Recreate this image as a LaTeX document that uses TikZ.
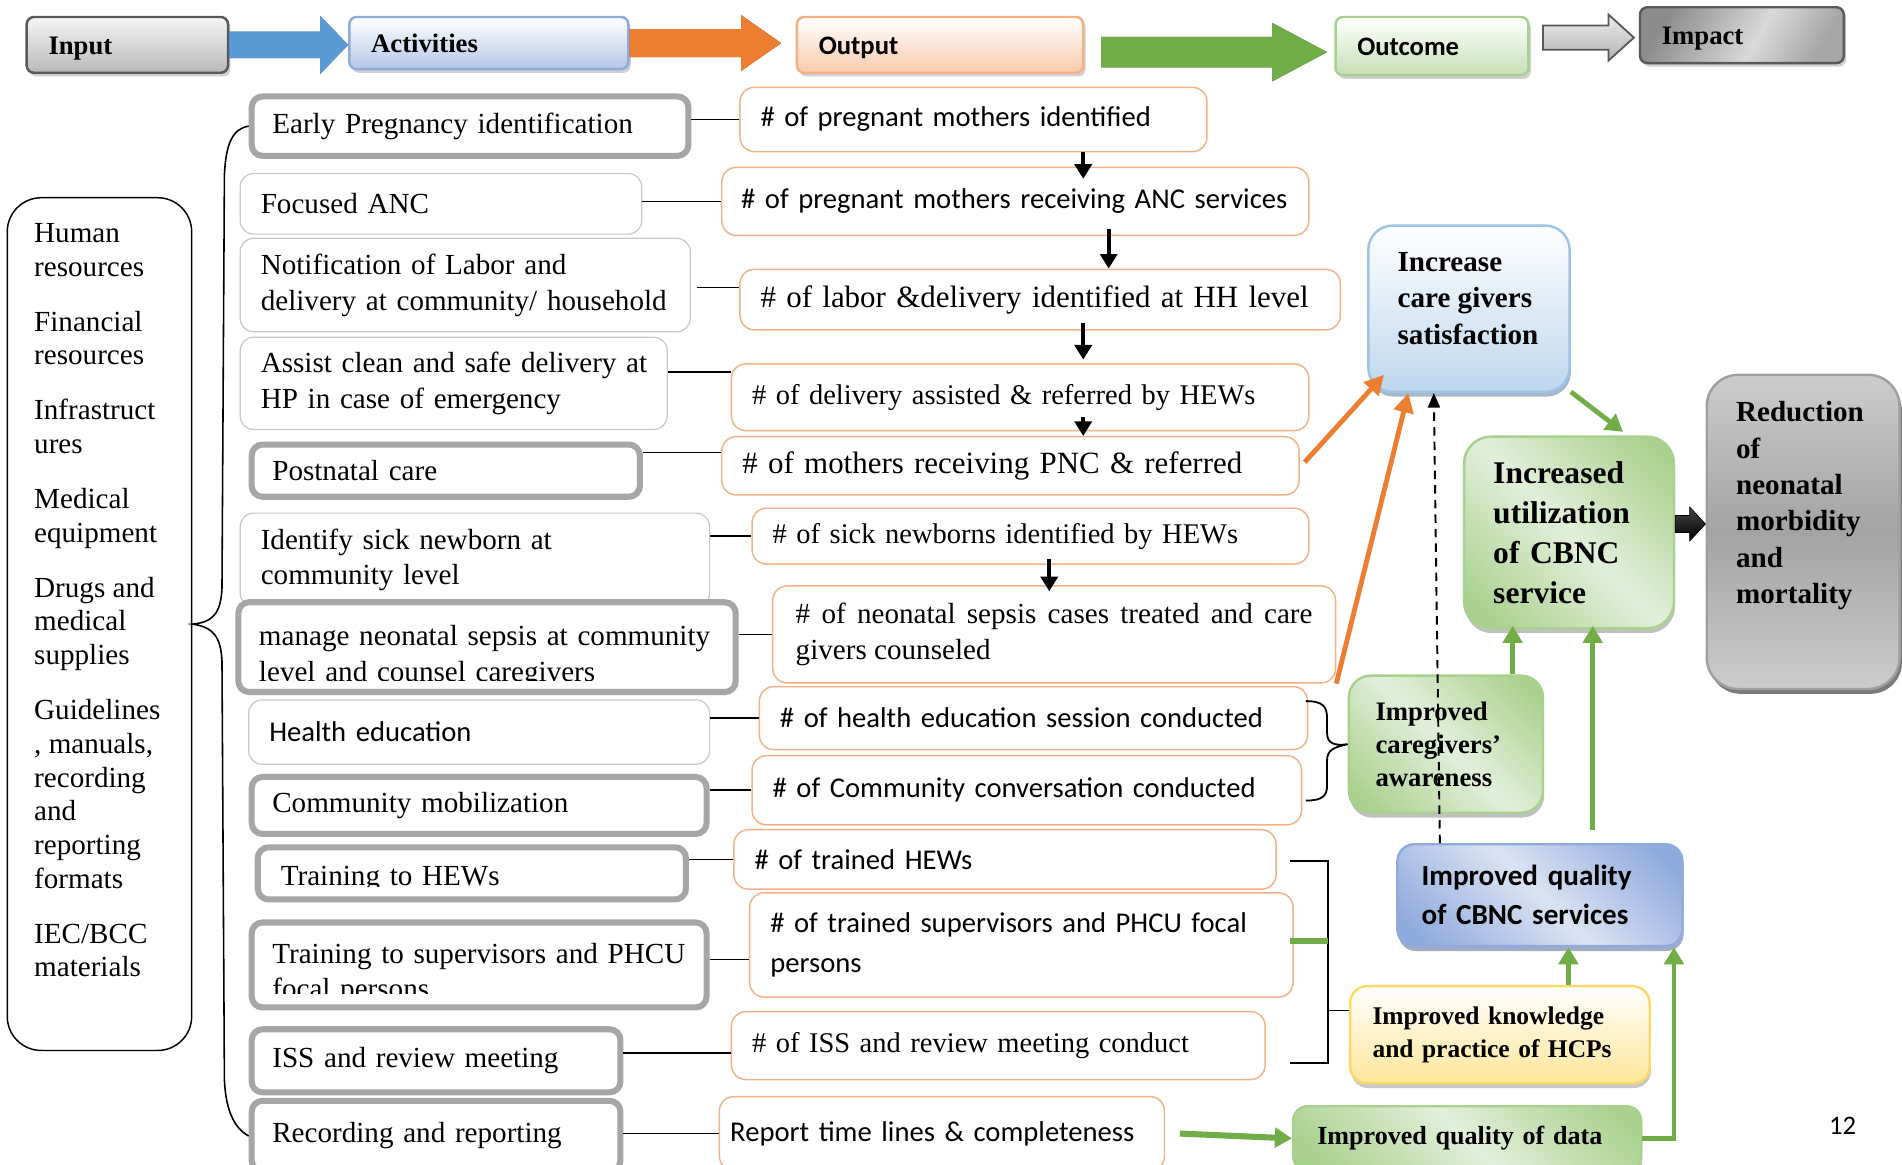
\documentclass[tikz,border=0pt]{standalone}
\usepackage{fontspec}
\setmainfont{Liberation Serif}
\newfontfamily\calib{Carlito}
\usetikzlibrary{arrows.meta,calc,shadows}

% palette
\definecolor{thickgray}{HTML}{A6A6A6}
\definecolor{thingray}{HTML}{C8C8C8}
\definecolor{orline}{HTML}{F4B183}
\definecolor{orfill}{HTML}{ED7D31}
\definecolor{orshadow}{HTML}{8B3A0E}
\definecolor{blfill}{HTML}{5B9BD5}
\definecolor{blshadow}{HTML}{2F5F8F}
\definecolor{grfill}{HTML}{70AD47}
\definecolor{grshadow}{HTML}{3A5F25}
\definecolor{darkline}{HTML}{595959}
\definecolor{glight}{HTML}{E2EFDA}
\definecolor{gdark}{HTML}{A9D18E}
\definecolor{blight}{HTML}{DAE3F3}
\definecolor{bdark}{HTML}{8FAADC}
\definecolor{graylight}{HTML}{CCCCCC}
\definecolor{graydark}{HTML}{A3A3A3}
\definecolor{skyfill}{HTML}{BDD7EE}
\definecolor{skyline}{HTML}{9DC3E6}
\definecolor{actfill}{HTML}{B4C7E7}
\definecolor{peach}{HTML}{F8CBAD}
\definecolor{mint}{HTML}{C5E0B4}
\definecolor{butter}{HTML}{FFE699}
\definecolor{butterline}{HTML}{FFD966}
\definecolor{imA}{HTML}{8C8C8C}
\definecolor{imB}{HTML}{D9D9D9}
\definecolor{imC}{HTML}{A6A6A6}

% shadings
\pgfdeclarehorizontalshading{greenband}{100bp}{color(0bp)=(gdark); color(20bp)=(gdark); color(50bp)=(glight); color(80bp)=(gdark); color(100bp)=(gdark)}
\pgfdeclarehorizontalshading{blueband}{100bp}{color(0bp)=(bdark); color(20bp)=(bdark); color(50bp)=(blight); color(80bp)=(bdark); color(100bp)=(bdark)}
\pgfdeclareverticalshading{grayband}{100bp}{color(0bp)=(graylight); color(25bp)=(graylight); color(50bp)=(graydark); color(75bp)=(graylight); color(100bp)=(graylight)}
\pgfdeclarehorizontalshading{impactshade}{100bp}{color(0bp)=(imA); color(25bp)=(imA); color(55bp)=(imB); color(75bp)=(imC); color(100bp)=(imC)}

% fonts
\newcommand\tnr{\fontsize{24}{29.5}\selectfont}
\newcommand\tnrout{\fontsize{23.5}{29}\selectfont}
\newcommand\tnrbig{\fontsize{25.5}{31}\selectfont}
\newcommand\calibf{\calib\fontsize{23.6}{29}\selectfont}
\newcommand\calibwide{\calib\fontsize{23.6}{33}\selectfont}

% block arrow: style, start, tip, body half height, head half height, head length
\newcommand\fatarrow[6]{%
  \path[#1] let \p1=(#2), \p2=(#3) in
    (\x1,\y1+#4) -- (\x2-#6,\y1+#4) -- (\x2-#6,\y1+#5) -- (\x2,\y1)
    -- (\x2-#6,\y1-#5) -- (\x2-#6,\y1-#4) -- (\x1,\y1-#4) -- cycle;}

\tikzset{
  hdr/.style={draw, line width=2pt, rounded corners=6pt, inner xsep=18pt, align=left,
    text height=16pt, text depth=0pt,
    font=\bfseries\fontsize{22}{26}\selectfont,
    drop shadow={shadow xshift=2pt, shadow yshift=-3pt, fill=gray!60, opacity=0.6}},
  thickbox/.style={draw=thickgray, line width=5pt, rounded corners=9pt, fill=white,
    inner xsep=17pt, align=left, font=\tnr},
  thinbox/.style={draw=thingray, line width=1pt, rounded corners=11pt, fill=white,
    inner xsep=17pt, align=left, font=\tnr},
  outbox/.style={draw=orline, line width=1.2pt, rounded corners=12pt, fill=white,
    inner xsep=17pt, align=left, font=\tnrout},
  rbox/.style={line width=2pt, align=left},
  wire/.style={draw=black, line width=1.3pt},
  downarr/.style={draw=black, line width=3pt, -{Triangle[length=12pt,width=14pt]}},
  orarrow/.style={draw=orfill, line width=4pt, -{Triangle[length=16pt,width=16pt]}},
  grarrow/.style={draw=grfill, line width=4pt, -{Triangle[length=14pt,width=16pt]}},
  dasharr/.style={draw=black, line width=1.6pt, dash pattern=on 7pt off 5pt,
    -{Triangle[length=12pt,width=10pt]}},
  bracketline/.style={draw=black, line width=1.5pt},
  greenbar/.style={draw=grfill, line width=5pt},
}

\begin{document}
\begin{tikzpicture}[x=1pt,y=-1pt]
\useasboundingbox (0,0) rectangle (1568,960);
\fill[white] (0,0) rectangle (1568,960);

% ---------- header row ----------
\node[hdr, draw=darkline, top color=gray!8, bottom color=gray!55, text width=130pt, minimum height=46pt] (hIn) at (105,37) {Input};
\node[hdr, draw=bdark, top color=white, bottom color=actfill, text width=194pt, minimum height=43pt] (hAct) at (403,35.5) {Activities};
\node[hdr, draw=orline, top color=white, bottom color=peach, text width=200pt, minimum height=46pt, font=\calib\bfseries\fontsize{22}{26}\selectfont] (hOut) at (775,37) {Output};
\node[hdr, draw=gdark, top color=white, bottom color=mint, text width=123pt, minimum height=48pt, font=\calib\bfseries\fontsize{22}{26}\selectfont] (hOc) at (1180.5,38) {Outcome};
\node[hdr, draw=darkline, shade, shading=impactshade, shading angle=-30, text width=132pt, minimum height=46pt] (hIm) at (1436,29) {Impact};

\fatarrow{fill=blshadow, xshift=2pt, yshift=-3pt}{hIn.east}{hAct.west}{11}{24}{23}
\fatarrow{fill=blfill}{hIn.east}{hAct.west}{11}{24}{23}
\fatarrow{fill=orshadow, xshift=2pt, yshift=-3pt}{hAct.east}{$(hOut.west)+(-12,0)$}{11.5}{23}{33}
\fatarrow{fill=orfill}{hAct.east}{$(hOut.west)+(-12,0)$}{11.5}{23}{33}
\fatarrow{fill=grshadow, xshift=2pt, yshift=-3pt}{$(hOut.east)+(14,6)$}{$(hOc.west)+(-6,6)$}{12.5}{24}{45}
\fatarrow{fill=grfill}{$(hOut.east)+(14,6)$}{$(hOc.west)+(-6,6)$}{12.5}{24}{45}
\fatarrow{top color=gray!15, bottom color=gray!60, draw=darkline, line width=1.5pt}{$(hOc.east)+(11,-7)$}{$(hIm.west)+(-4,0)$}{10}{19}{21}

% ---------- inputs ----------
\node[draw=black, line width=1.2pt, rounded corners=28pt, minimum width=152pt, minimum height=703pt] (inp) at (82,514.5) {};
\node[anchor=north west, inner sep=0pt, align=left, font=\fontsize{24}{27.8}\selectfont] (inpt) at (28,184)
  {Human\\resources\\[17.5pt]Financial\\resources\\[17.5pt]Infrastruct\\ures\\[17.5pt]Medical\\equipment\\[17.5pt]Drugs and\\medical\\supplies\\[17.5pt]Guidelines\\, manuals,\\recording\\and\\reporting\\formats\\[17.5pt]IEC/BCC\\materials};

% ---------- activities ----------
\node[thickbox, text width=326pt, minimum height=49pt] (a1) at (387.5,104) {Early Pregnancy identification};
\node[thinbox, text width=297pt, minimum height=50pt] (a2) at (363.5,168) {Focused ANC};
\node[thinbox, text width=337pt, minimum height=77pt] (a3) at (383.5,235) {\mbox{Notification of Labor and}\\\mbox{delivery at community/ household}};
\node[thinbox, text width=318pt, minimum height=76pt] (a4) at (374,316) {\mbox{Assist clean and safe delivery at}\\\mbox{HP in case of emergency}};
\node[thickbox, text width=286pt, minimum height=43pt] (a5) at (367.5,388) {Postnatal care};
\node[thinbox, text width=353pt, minimum height=77pt] (a6) at (391.5,461.5) {Identify sick newborn at\\community level};
\node[thickbox, text width=376pt, minimum height=74pt] (a7) at (401.5,533.5) {};
\begin{scope}
  \clip (190,490) rectangle (615,561);
  \node[inner xsep=17pt, align=left, text width=376pt, font=\tnr] (a7t) at (401.5,541) {\mbox{manage neonatal sepsis at community}\\level and counsel caregivers};
\end{scope}
\node[thinbox, font=\calibf, text width=346pt, minimum height=53pt] (a8) at (395,603.5) {Health education};
\node[thickbox, text width=341pt, minimum height=47pt] (a9) at (395,664) {Community mobilization};
\node[thickbox, text width=319pt, minimum height=43pt] (a10) at (389,720) {};
\begin{scope}
  \clip (200,690) rectangle (580,731);
  \node[inner xsep=17pt, align=left, text width=319pt, font=\tnr] (a10t) at (391,725) {Training to HEWs};
\end{scope}
\node[thickbox, text width=341pt, minimum height=70pt] (a11) at (395,795.5) {};
\begin{scope}
  \clip (200,750) rectangle (590,819);
  \node[inner xsep=17pt, align=left, text width=341pt, font=\tnr] (a11t) at (395,803) {\mbox{Training to supervisors and PHCU}\\focal persons};
\end{scope}
\node[thickbox, text width=270pt, minimum height=52pt] (a12) at (359.5,874.5) {ISS and review meeting};
\node[thickbox, text width=270pt, minimum height=58pt] (a13) at (359.5,936.5) {Recording and reporting};

% brace gathering the activities
\draw[bracketline, line width=1.3pt] (a1.west) .. controls (192,106) and (186,118) .. (185,145) -- (183,485)
  .. controls (182,505) and (176,513) .. (inp.east) .. controls (176,517) and (182,525) .. (183,545)
  -- (185,890) .. controls (186,915) and (193,930) .. (a13.west);

% ---------- outputs ----------
\node[outbox, font=\calibf, text width=351pt, minimum height=53pt] (o1) at (802.5,98.5) {\# of pregnant mothers identified};
\node[outbox, font=\calib\fontsize{23.6}{29}\selectfont, inner xsep=16pt, text width=452pt, minimum height=56pt] (o2) at (837,166) {\mbox{\# of pregnant mothers receiving ANC services}};
\node[outbox, font=\tnrbig, text width=461pt, minimum height=50pt] (o3) at (857.5,247) {\mbox{\# of labor \&delivery identified at HH level}};
\node[outbox, text width=442pt, minimum height=55pt] (o4) at (841,327.5) {\mbox{\# of delivery assisted \& referred by HEWs}};
\node[outbox, font=\tnrbig, text width=442pt, minimum height=48pt] (o5) at (833,384) {\mbox{\# of mothers receiving PNC \& referred}};
\node[outbox, text width=425pt, minimum height=46pt] (o6) at (849.5,442) {\mbox{\# of sick newborns identified by HEWs}};
\node[outbox, font=\tnr, align=justify, inner xsep=19pt, text width=426pt, minimum height=80pt] (o7) at (869,523) {\# of neonatal sepsis cases treated and care\linebreak givers counseled};
\node[outbox, font=\calibf, text width=418pt, minimum height=52pt] (o8) at (852,592) {\mbox{\# of health education session conducted}};
\node[outbox, font=\calibf, text width=419pt, minimum height=57pt] (o9) at (846.5,651.5) {\mbox{\# of Community conversation conducted}};
\node[outbox, font=\calibf, text width=413pt, minimum height=49pt] (o10) at (828.5,708.5) {\# of trained HEWs};
\node[outbox, font=\calibwide, text width=414pt, minimum height=86pt] (o11) at (842,779) {\mbox{\# of trained supervisors and PHCU focal}\\persons};
\node[outbox, text width=406pt, minimum height=56pt] (o12) at (823,862) {\mbox{\# of ISS and review meeting conduct}};
\node[outbox, font=\calibf, inner xsep=9pt, text width=349pt, minimum height=61pt] (o13) at (776.5,934.5) {\mbox{Report time lines \& completeness}};

% activity -> output links
\coordinate (c3) at ($(o3.west)+(0,-10)$);
\coordinate (c4) at ($(o4.west)+(0,-21)$);
\coordinate (c5) at ($(o5.west)+(0,-11)$);
\coordinate (c11) at ($(o11.west)+(0,12)$);
\coordinate (c12) at ($(o12.west)+(0,6)$);
\draw[wire] (a1.east |- o1.west) -- (o1.west);
\draw[wire] (a2.east |- o2.west) -- (o2.west);
\draw[wire] ($(a3.east |- c3)+(5,0)$) -- (c3);
\draw[wire] (a4.east |- c4) -- (c4);
\draw[wire] (a5.east |- c5) -- (c5);
\draw[wire] (a6.east |- o6.west) -- (o6.west);
\draw[wire] (a7.east |- o7.west) -- (o7.west);
\draw[wire] (a8.east |- o8.west) -- (o8.west);
\draw[wire] (a9.east |- o9.west) -- (o9.west);
\draw[wire] (a10.east |- o10.west) -- (o10.west);
\draw[wire] (a11.east |- c11) -- (c11);
\draw[wire] (a12.east |- c12) -- (c12);
\draw[wire] (a13.east |- o13.west) -- (o13.west);

% cascade between outputs
\draw[downarr] ($(o1.south)+(90.5,0)$) -- ($(o2.north)+(56,10)$);
\draw[downarr] ($(o2.south)+(77,-6)$) -- ($(o3.north)+(56.5,0)$);
\draw[downarr] ($(o3.south)+(35.5,-6)$) -- ($(o4.north)+(52,-3)$);
\draw[downarr] ($(o4.south)+(52,-12)$) -- ($(o5.north)+(60,0)$);
\draw[downarr] ($(o6.south)+(15.5,-5)$) -- ($(o7.north)+(-4,5)$);

% ---------- outcomes ----------
\node[rbox, draw=skyline, top color=white, bottom color=skyfill, rounded corners=20pt, minimum width=166pt, minimum height=137pt,
  drop shadow={shadow xshift=1pt, shadow yshift=-4pt, fill=skyline!70!black, opacity=0.6}] (r1) at (1211,254.5) {};
\node[anchor=west, inner sep=0pt, align=left, font=\bfseries\fontsize{24}{30}\selectfont] (r1t) at (1152,246) {Increase\\care givers\\satisfaction};
\node[rbox, draw=gdark, shade, shading=greenband, shading angle=45, rounded corners=22pt, inner xsep=24pt, text width=125pt, minimum height=158pt,
  font=\bfseries\fontsize{26}{33}\selectfont,
  drop shadow={shadow xshift=1pt, shadow yshift=-4pt, fill=gray!70, opacity=0.7}] (r2) at (1293.5,439) {Increased\\utilization\\of CBNC\\service};
\node[rbox, draw=gray!75, shade, shading=grayband, rounded corners=26pt, minimum width=159pt, minimum height=259pt,
  drop shadow={shadow xshift=2pt, shadow yshift=-4pt, fill=gray!70!black, opacity=0.8}] (r3) at (1486.5,438.5) {};
\node[anchor=west, inner sep=0pt, align=left, font=\bfseries\fontsize{24}{30}\selectfont] (r3t) at (1431,417) {Reduction\\of\\neonatal\\morbidity\\and\\mortality};
\node[rbox, draw=gdark, shade, shading=greenband, shading angle=45, rounded corners=18pt, inner xsep=22pt, text width=116pt, minimum height=113pt,
  font=\bfseries\fontsize{22}{27}\selectfont,
  drop shadow={shadow xshift=1pt, shadow yshift=-4pt, fill=gray!70, opacity=0.7}] (r4) at (1192,613.5) {Improved\\caregivers’\\awareness};
\node[rbox, draw=bdark, shade, shading=blueband, shading angle=45, rounded corners=14pt, inner xsep=20pt, text width=195pt, minimum height=84pt,
  font=\calib\bfseries\fontsize{24}{32}\selectfont,
  drop shadow={shadow xshift=1pt, shadow yshift=-4pt, fill=bdark!70!black, opacity=0.6}] (r5) at (1269.5,738) {Improved quality\\of CBNC services};
\node[rbox, draw=butterline, top color=white, bottom color=butter, rounded corners=14pt, inner xsep=18.5pt, text width=210pt, minimum height=80pt,
  font=\bfseries\fontsize{21}{27}\selectfont,
  drop shadow={shadow xshift=1pt, shadow yshift=-4pt, fill=gray!60, opacity=0.7}] (r6) at (1236.5,853) {Improved knowledge\\and practice of HCPs};
\node[rbox, draw=gdark, shade, shading=greenband, shading angle=45, rounded corners=12pt, inner xsep=20pt, text width=247pt, minimum height=53pt,
  font=\bfseries\fontsize{21.5}{27}\selectfont,
  drop shadow={shadow xshift=1pt, shadow yshift=-4pt, fill=gray!60, opacity=0.7}] (r7) at (1209.5,938.5) {Improved quality of data};

% output -> outcome arrows
\draw[orarrow] ($(o5.east)+(4,-3)$) -- ($(r1.south west)+(14,-15)$);
\draw[orarrow] (o7.south east) -- ($(r1.south west)+(34,0)$);
\draw[dasharr] ($(r5.north west)+(36,0)$) -- ($(r1.south west)+(55,0)$);

% outcome links
\draw[grarrow] ($(r1.south east)+(0,-1)$) -- ($(r2.north east)+(-43,-3)$);
\coordinate (g1) at ($(r4.north)+(55,0)$);
\draw[grarrow, shorten >=-3pt] (g1) -- (g1 |- r2.south);
\coordinate (g2) at ($(r5.north)+(43.5,-11)$);
\draw[grarrow, shorten >=-3pt] (g2) -- (g2 |- r2.south);
\coordinate (g3) at ($(r6.north)+(56.5,0)$);
\draw[grarrow] (g3) -- (g3 |- r5.south);
\coordinate (g4) at ($(r5.south east)+(-8,0)$);
\draw[grarrow] (r7.east) -| (g4);
\draw[grarrow, line width=5pt] ($(o13.east)+(12,0)$) -- (r7.west);
\fatarrow{top color=gray!55!black, bottom color=black, draw=black, line width=0.5pt}{$(r2.east)+(0,-7)$}{r3.west}{7}{14}{13}

% brackets grouping outputs
\coordinate (bk) at ($(o10.east)+(42,0)$);
\coordinate (kn) at ($(r6.west)+(0,-20)$);
\draw[bracketline] ($(o10.east)+(11,1.5)$) -- ($(bk)+(0,1.5)$) |- ($(o12.east)+(20,14)$);
\draw[bracketline] (bk |- kn) -- (kn);
\draw[greenbar] ($(o11.east)+(-3,-3)$) -- ($(bk |- o11.east)+(0,-3)$);
\draw[bracketline] ($(o8.east)+(-2,-14)$) .. controls (1090,578) and (1094,582) .. (1094,592) -- (1094,604)
  .. controls (1094,613) and (1100,615) .. (r4.west) .. controls (1100,616) and (1094,618) .. (1094,627)
  -- (1094,648) .. controls (1094,656) and (1090,660) .. ($(o9.east)+(3,8.5)$);

% page number
\node[font=\calib\fontsize{22}{26}\selectfont] (pg) at (1519,928) {12};
\end{tikzpicture}
\end{document}
